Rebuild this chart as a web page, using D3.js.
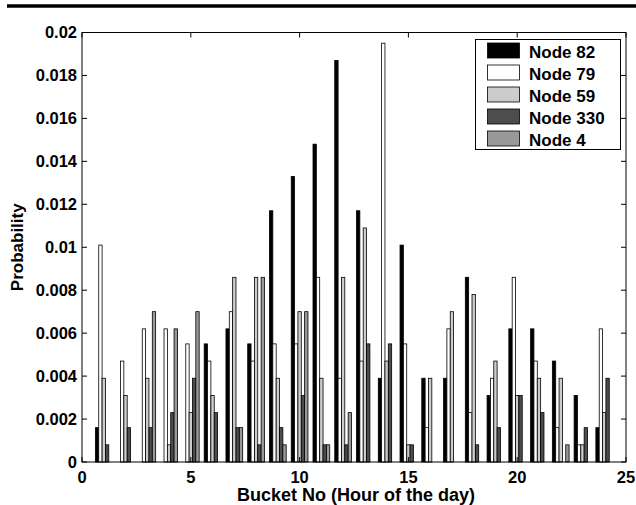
<!DOCTYPE html>
<html>
<head>
<meta charset="utf-8">
<script src="https://cdn.jsdelivr.net/npm/d3@7"></script>
<style>
  html, body { margin: 0; padding: 0; background: #fff; }
  svg text { font-family: "Liberation Sans", Arial, Helvetica, sans-serif; font-weight: bold; fill: #000; }
</style>
</head>
<body>
<svg id="chart" width="636" height="505"></svg>
<script>
// hour-of-day buckets
const buckets = [1, 2, 3, 4, 5, 6, 7, 8, 9, 10, 11, 12, 13, 14, 15, 16, 17, 18, 19, 20, 21, 22, 23, 24];

const node82  = [0.0016, 0, 0, 0, 0, 0.0055, 0.0062, 0.0055, 0.0117, 0.0133, 0.0148, 0.0187, 0.0117, 0.0039, 0.0101, 0.0039, 0.0039, 0.0086, 0.0031, 0.0062, 0.0062, 0.0047, 0.0031, 0.0016];
const node79  = [0.0101, 0.0047, 0.0062, 0.0062, 0.0055, 0.0047, 0.0070, 0.0047, 0.0055, 0.0055, 0.0086, 0.0039, 0.0047, 0.0195, 0.0055, 0.0016, 0.0062, 0.0023, 0.0039, 0.0086, 0.0047, 0.0016, 0.0008, 0.0062];
const node59  = [0.0039, 0.0031, 0.0039, 0.0008, 0.0023, 0.0031, 0.0086, 0.0086, 0.0039, 0.0070, 0.0039, 0.0086, 0.0109, 0.0047, 0.0008, 0.0039, 0.0070, 0.0078, 0.0047, 0.0031, 0.0039, 0.0039, 0.0008, 0.0023];
const node330 = [0.0008, 0.0016, 0.0016, 0.0023, 0.0039, 0.0023, 0.0016, 0.0008, 0.0016, 0.0031, 0.0008, 0.0008, 0.0055, 0.0055, 0.0008, 0, 0, 0.0008, 0.0016, 0.0031, 0.0023, 0, 0.0016, 0.0039];
const node4   = [0, 0, 0.0070, 0.0062, 0.0070, 0, 0.0016, 0.0086, 0.0008, 0.0070, 0.0008, 0.0023, 0, 0, 0, 0, 0, 0, 0, 0, 0, 0.0008, 0, 0];

const seriesNames = ["Node 82", "Node 79", "Node 59", "Node 330", "Node 4"];
const seriesColors = ["#000000", "#ffffff", "#cccccc", "#4d4d4d", "#999999"];

const xTicks = [0, 5, 10, 15, 20, 25];
const yTicks = [0, 0.002, 0.004, 0.006, 0.008, 0.01, 0.012, 0.014, 0.016, 0.018, 0.02];
const yTickLabels = ["0", "0.002", "0.004", "0.006", "0.008", "0.01", "0.012", "0.014", "0.016", "0.018", "0.02"];

const series = [node82, node79, node59, node330, node4];

const plotLeft = 82, plotRight = 626, plotTop = 32.5, plotBottom = 462;
const tickLen = 5;

const svg = d3.select("#chart");

// rule above the figure
svg.append("line")
  .attr("x1", 7).attr("x2", 636)
  .attr("y1", 6).attr("y2", 6)
  .attr("stroke", "#000")
  .attr("stroke-width", 3.5);

const x = d3.scaleLinear().domain([0, 25]).range([plotLeft, plotRight]);
const y = d3.scaleLinear().domain([0, 0.02]).range([plotBottom, plotTop]);

// grouped bars, matlab style: adjacent bars in a group
const groupWidth = Math.min(0.8, 5 / (5 + 1.5));
const barStep = groupWidth / series.length;

const bars = svg.append("g").attr("class", "bars");
series.forEach((vals, j) => {
  bars.selectAll(null)
    .data(buckets.map((b, i) => ({ b, v: vals[i] })).filter(d => d.v > 0))
    .join("rect")
    .attr("x", d => x(d.b + (j - 2.5) * barStep))
    .attr("width", x(barStep) - x(0))
    .attr("y", d => y(d.v))
    .attr("height", d => y(0) - y(d.v))
    .attr("fill", seriesColors[j])
    .attr("stroke", "#000")
    .attr("stroke-width", 0.8);
});

// axes box
svg.append("rect")
  .attr("x", plotLeft).attr("y", plotTop)
  .attr("width", plotRight - plotLeft).attr("height", plotBottom - plotTop)
  .attr("fill", "none")
  .attr("stroke", "#000")
  .attr("stroke-width", 1);

// ticks, pointing inward on all four sides
const ticks = svg.append("g").attr("stroke", "#000").attr("stroke-width", 1);
xTicks.forEach(t => {
  ticks.append("line").attr("x1", x(t)).attr("x2", x(t)).attr("y1", plotBottom).attr("y2", plotBottom - tickLen);
  ticks.append("line").attr("x1", x(t)).attr("x2", x(t)).attr("y1", plotTop).attr("y2", plotTop + tickLen);
});
yTicks.forEach(t => {
  ticks.append("line").attr("x1", plotLeft).attr("x2", plotLeft + tickLen).attr("y1", y(t)).attr("y2", y(t));
  ticks.append("line").attr("x1", plotRight).attr("x2", plotRight - tickLen).attr("y1", y(t)).attr("y2", y(t));
});

// tick labels
svg.append("g").selectAll("text")
  .data(xTicks)
  .join("text")
  .attr("x", d => x(d))
  .attr("y", 483)
  .attr("text-anchor", "middle")
  .attr("font-size", 16.5)
  .text(d => d);

svg.append("g").selectAll("text")
  .data(yTicks)
  .join("text")
  .attr("x", 77)
  .attr("y", d => y(d))
  .attr("dy", "0.36em")
  .attr("text-anchor", "end")
  .attr("font-size", 16.5)
  .text((d, i) => yTickLabels[i]);

// axis titles
svg.append("text")
  .attr("x", (plotLeft + plotRight) / 2 + 2)
  .attr("y", 501)
  .attr("text-anchor", "middle")
  .attr("font-size", 18)
  .text("Bucket No (Hour of the day)");

svg.append("text")
  .attr("transform", `translate(22.5, ${(plotTop + plotBottom) / 2}) rotate(-90)`)
  .attr("text-anchor", "middle")
  .attr("font-size", 17)
  .text("Probability");

// legend
const legend = svg.append("g");
legend.append("rect")
  .attr("x", 475.5).attr("y", 39.5)
  .attr("width", 145).attr("height", 110)
  .attr("fill", "#fff")
  .attr("stroke", "#000")
  .attr("stroke-width", 1);

const rows = legend.selectAll("g.row")
  .data(seriesNames)
  .join("g")
  .attr("class", "row")
  .attr("transform", (d, i) => `translate(0, ${i * 22})`);

rows.append("rect")
  .attr("x", 487.5).attr("y", 43)
  .attr("width", 32).attr("height", 15)
  .attr("fill", (d, i) => seriesColors[i])
  .attr("stroke", "#000")
  .attr("stroke-width", 0.8);

rows.append("text")
  .attr("x", 529)
  .attr("y", 57.5)
  .attr("font-size", 17)
  .text(d => d);
</script>
</body>
</html>
